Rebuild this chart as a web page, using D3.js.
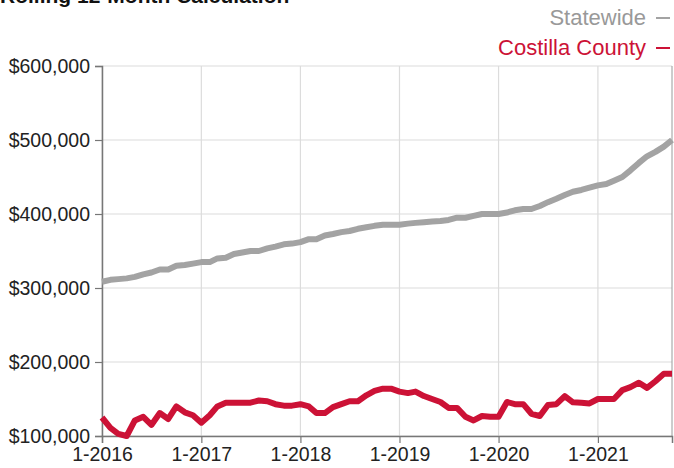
<!DOCTYPE html>
<html>
<head>
<meta charset="utf-8">
<script src="https://cdn.jsdelivr.net/npm/d3@7"></script>
<style>
  body { margin: 0; background: #fff; }
  text { font-family: "Liberation Sans", Arial, sans-serif; }
</style>
</head>
<body>
<div id="chart"></div>
<script>
// monthly rolling 12-month median, Jan 2016 .. Oct 2021
const startMonth = new Date(2016, 0, 1);
const statewide = [
  308500, 311000, 312000, 313000, 315000, 318500, 321000, 325000, 325000, 330000, 331000, 333000,
  335000, 335000, 340000, 341000, 346000, 348000, 350000, 350000, 353500, 356000, 359000, 360000,
  362000, 366000, 366000, 371000, 373000, 375500, 377000, 380000, 382000, 384000, 385500, 385500,
  385500, 387000, 388000, 389000, 390000, 390500, 392000, 395000, 395000, 397500, 400000, 400000,
  400000, 402000, 405000, 406700, 406700, 410800, 416000, 420700, 425700, 430000, 432500, 435500,
  438700, 440500, 445000, 450000, 459000, 469000, 478000, 484000, 491000, 500000
];
const costilla = [
  125000, 111000, 103000, 100000, 121000, 126000, 115000, 131000, 123000, 140000, 132000, 128000,
  118000, 128000, 140000, 145000, 145000, 145000, 145000, 148000, 147000, 143000, 141000, 141000,
  143000, 140000, 131000, 131000, 139000, 143000, 147000, 147000, 155000, 161000, 164000, 164000,
  160000, 158000, 160000, 154000, 150000, 146000, 138000, 138000, 126000, 121000, 127000, 126000,
  126000, 146000, 143000, 143000, 130000, 127000, 142000, 143000, 154000, 145500, 145000, 144000,
  150000, 150000, 150000, 162000, 166000, 172000, 165000, 174000, 184000, 184000
];
const yTicks = [100000, 200000, 300000, 400000, 500000, 600000];
const xTickYears = [2016, 2017, 2018, 2019, 2020, 2021];
const seriesNames = ["Statewide", "Costilla County"];
const seriesColors = ["#a3a3a3", "#cc1236"];
const legendTextColors = ["#999999", "#cc1236"];

const width = 674, height = 468;
const margin = { top: 66, right: 2, bottom: 32, left: 102 };
const innerW = width - margin.left - margin.right;
const innerH = height - margin.top - margin.bottom;

const svg = d3.select("#chart").append("svg")
  .attr("width", width)
  .attr("height", height);

const dates = statewide.map((_, i) => d3.timeMonth.offset(startMonth, i));

const x = d3.scaleTime()
  .domain([dates[0], dates[dates.length - 1]])
  .range([0, innerW]);
const y = d3.scaleLinear()
  .domain([100000, 600000])
  .range([innerH, 0]);

const g = svg.append("g").attr("transform", `translate(${margin.left},${margin.top})`);

// grid
g.append("g")
  .selectAll("line")
  .data(yTicks)
  .enter().append("line")
  .attr("x1", 0).attr("x2", innerW)
  .attr("y1", d => y(d)).attr("y2", d => y(d))
  .attr("stroke", "#dcdcdc").attr("stroke-width", 1.2);

g.append("g")
  .selectAll("line")
  .data(xTickYears)
  .enter().append("line")
  .attr("x1", d => x(new Date(d, 0, 1))).attr("x2", d => x(new Date(d, 0, 1)))
  .attr("y1", 0).attr("y2", innerH)
  .attr("stroke", "#dcdcdc").attr("stroke-width", 1.2);

// right border
g.append("line")
  .attr("x1", innerW).attr("x2", innerW)
  .attr("y1", 0).attr("y2", innerH)
  .attr("stroke", "#9a9a9a").attr("stroke-width", 1);

// axes
const yAxis = g.append("g")
  .call(d3.axisLeft(y).tickValues(yTicks).tickSize(7).tickPadding(5)
    .tickFormat(d => "$" + d3.format(",")(d)));
yAxis.select(".domain").attr("stroke", "#777").attr("stroke-width", 1.5);
yAxis.selectAll(".tick line").attr("stroke", "#777").attr("stroke-width", 1.2);
yAxis.selectAll(".tick text")
  .attr("fill", "#222").style("font-size", "19.5px")
  .style("font-family", "'Liberation Sans', Arial, sans-serif");

const xAxis = g.append("g")
  .attr("transform", `translate(0,${innerH})`)
  .call(d3.axisBottom(x).tickValues(xTickYears.map(yr => new Date(yr, 0, 1)))
    .tickSize(7).tickPadding(4)
    .tickFormat(d => "1-" + d.getFullYear()));
xAxis.select(".domain").attr("stroke", "#777").attr("stroke-width", 1.5);
xAxis.selectAll(".tick line").attr("stroke", "#777").attr("stroke-width", 1.2);
xAxis.selectAll(".tick text")
  .attr("fill", "#222").style("font-size", "19.5px")
  .style("font-family", "'Liberation Sans', Arial, sans-serif");

// lines
const line = d3.line()
  .x((d, i) => x(dates[i]))
  .y(d => y(d));

[statewide, costilla].forEach((s, k) => {
  g.append("path")
    .datum(s)
    .attr("fill", "none")
    .attr("stroke", seriesColors[k])
    .attr("stroke-width", 6)
    .attr("stroke-linejoin", "round")
    .attr("d", line);
});

// title, cropped at the top edge as in the source image
svg.append("text")
  .attr("x", 0).attr("y", 3)
  .style("font-size", "21px").style("font-weight", "bold")
  .attr("fill", "#111")
  .text("Rolling 12-Month Calculation");

// legend
const legend = svg.append("g");
seriesNames.forEach((name, k) => {
  const ly = 25 + k * 30;
  legend.append("text")
    .attr("x", 646).attr("y", ly)
    .attr("text-anchor", "end")
    .attr("fill", legendTextColors[k])
    .style("font-size", "22px")
    .text(name);
  legend.append("line")
    .attr("x1", 656).attr("x2", 670)
    .attr("y1", ly - 7).attr("y2", ly - 7)
    .attr("stroke", seriesColors[k])
    .attr("stroke-width", 2);
});
</script>
</body>
</html>
